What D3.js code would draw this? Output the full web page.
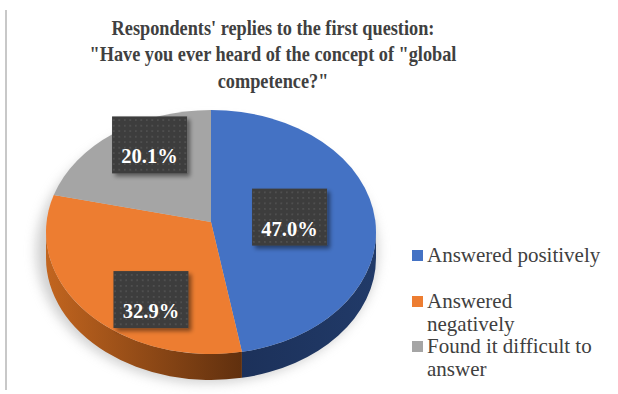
<!DOCTYPE html>
<html>
<head>
  <meta charset="utf-8">
  <title>Global competence pie</title>
  <script src="https://cdn.jsdelivr.net/npm/d3@7"></script>
  <style>
    body { margin: 0; background: #fff; }
    svg { display: block; }
  </style>
</head>
<body>
  <div id="chart"></div>
  <script>
    // Data
    const categories = ["Answered positively", "Answered negatively", "Found it difficult to answer"];
    const shares = [47.0, 32.9, 20.1];
    const legendLines = [["Answered positively"], ["Answered", "negatively"], ["Found it difficult to", "answer"]];
    const titleLines = ["Respondents' replies to the first question:", "\"Have you ever heard of the concept of \"global", "competence?\""];

    const width = 618, height = 394;
    const serif = "'Liberation Serif', 'Times New Roman', serif";
    const topColors = ["#4472c4", "#ed7d31", "#a5a5a5"];
    const sideColors = [["#213a68", "#1b2f57"], ["#c2651f", "#5f2f0e"], ["#7a7a7a", "#5a5a5a"]];

    // pie geometry (ellipse seen in perspective)
    const cx = 211, cy = 232, rx = 165, ry = 122, depth = 26;
    const vx = 211, vy = 222;
    // nudges of the label boxes away from the slice centroid
    const labelNudge = [[-20, 2], [14, 29], [-3, -18]];

    const svg = d3.select("#chart").append("svg")
      .attr("width", width).attr("height", height);

    const defs = svg.append("defs");
    const blur = defs.append("filter").attr("id", "pieShadow")
      .attr("x", "-20%").attr("y", "-20%").attr("width", "140%").attr("height", "140%");
    blur.append("feGaussianBlur").attr("stdDeviation", 6);

    const boxShadow = defs.append("filter").attr("id", "boxShadow")
      .attr("x", "-20%").attr("y", "-20%").attr("width", "150%").attr("height", "150%");
    boxShadow.append("feDropShadow").attr("dx", 3).attr("dy", 3)
      .attr("stdDeviation", 2).attr("flood-color", "#000").attr("flood-opacity", 0.45);

    const dots = defs.append("pattern").attr("id", "dots")
      .attr("width", 5.5).attr("height", 5.5).attr("patternUnits", "userSpaceOnUse");
    dots.append("rect").attr("width", 5.5).attr("height", 5.5).attr("fill", "#3d3d3d");
    dots.append("circle").attr("cx", 2.75).attr("cy", 2.75).attr("r", 0.9).attr("fill", "#555");

    sideColors.forEach((c, i) => {
      const g = defs.append("linearGradient").attr("id", "side" + i)
        .attr("gradientUnits", "userSpaceOnUse")
        .attr("x1", cx - rx).attr("x2", cx + rx).attr("y1", 0).attr("y2", 0);
      if (i === 1) {
        g.append("stop").attr("offset", "0%").attr("stop-color", c[0]);
        g.append("stop").attr("offset", "60%").attr("stop-color", c[1]);
      } else {
        g.append("stop").attr("offset", "50%").attr("stop-color", c[1]);
        g.append("stop").attr("offset", "100%").attr("stop-color", c[0]);
      }
    });

    // left border line of the figure
    svg.append("line")
      .attr("x1", 6).attr("x2", 6).attr("y1", 10).attr("y2", 390)
      .attr("stroke", "#c8c8c8").attr("stroke-width", 2);

    // title (the original face is narrower than Liberation Serif)
    svg.append("g")
      .attr("transform", "translate(273,0) scale(0.87,1)")
      .selectAll("text")
      .data(titleLines)
      .join("text")
      .attr("x", 0)
      .attr("y", (d, i) => 35 + i * 26.5)
      .attr("text-anchor", "middle")
      .attr("font-family", serif)
      .attr("font-weight", "bold")
      .attr("font-size", 21)
      .attr("fill", "#404040")
      .text(d => d);

    const pie = d3.pie().sort(null).value(d => d);
    const arcs = pie(shares);

    const pt = (a, dy = 0) => [cx + rx * Math.sin(a), cy - ry * Math.cos(a) + dy];

    // soft shadow under the pie
    svg.append("ellipse")
      .attr("cx", cx - 4).attr("cy", cy + depth / 2 + 6)
      .attr("rx", rx + 6).attr("ry", ry + 10)
      .attr("fill", "#a0a0a0").attr("opacity", 0.5)
      .attr("filter", "url(#pieShadow)");

    // sides (front half only)
    const lo = Math.PI / 2, hi = 3 * Math.PI / 2;
    svg.append("g").selectAll("path")
      .data(arcs.filter(d => d.endAngle > lo && d.startAngle < hi))
      .join("path")
      .attr("d", d => {
        const s0 = Math.max(d.startAngle, lo), s1 = Math.min(d.endAngle, hi);
        const p0 = pt(s0), p1 = pt(s1), q1 = pt(s1, depth), q0 = pt(s0, depth);
        return `M${p0}A${rx},${ry} 0 0 1 ${p1}L${q1}A${rx},${ry} 0 0 0 ${q0}Z`;
      })
      .attr("fill", d => `url(#side${d.index})`);

    // top faces
    svg.append("g").selectAll("path")
      .data(arcs)
      .join("path")
      .attr("d", d => {
        const p0 = pt(d.startAngle), p1 = pt(d.endAngle);
        const large = d.endAngle - d.startAngle > Math.PI ? 1 : 0;
        return `M${vx},${vy}L${p0}A${rx},${ry} 0 ${large} 1 ${p1}Z`;
      })
      .attr("fill", d => topColors[d.index]);

    // data labels
    const bw = 75, bh = 57;
    const labels = svg.append("g").selectAll("g")
      .data(arcs)
      .join("g")
      .attr("transform", d => {
        const m = (d.startAngle + d.endAngle) / 2;
        const x = vx + rx * Math.sin(m) * 0.6 + labelNudge[d.index][0];
        const y = vy - ry * Math.cos(m) * 0.6 + labelNudge[d.index][1];
        return `translate(${x},${y})`;
      });
    labels.append("rect")
      .attr("x", -bw / 2).attr("y", -bh / 2)
      .attr("width", bw).attr("height", bh)
      .attr("fill", "url(#dots)")
      .attr("filter", "url(#boxShadow)");
    labels.append("text")
      .attr("x", 0).attr("y", bh / 2 - 10)
      .attr("text-anchor", "middle")
      .attr("font-family", serif)
      .attr("font-weight", "bold")
      .attr("font-size", 20.5)
      .attr("fill", "#fff")
      .text(d => d3.format(".1f")(d.data) + "%");

    // legend
    const legendTop = [250, 296, 341];
    const legend = svg.append("g").selectAll("g")
      .data(categories)
      .join("g")
      .attr("transform", (d, i) => `translate(412,${legendTop[i]})`);
    legend.append("rect")
      .attr("width", 11).attr("height", 11)
      .attr("fill", (d, i) => topColors[i]);
    legend.append("text")
      .attr("font-family", serif)
      .attr("font-size", 21)
      .attr("fill", "#404040")
      .selectAll("tspan")
      .data((d, i) => legendLines[i])
      .join("tspan")
      .attr("x", 15)
      .attr("y", (d, i) => 12 + i * 23)
      .text(d => d);
  </script>
</body>
</html>
